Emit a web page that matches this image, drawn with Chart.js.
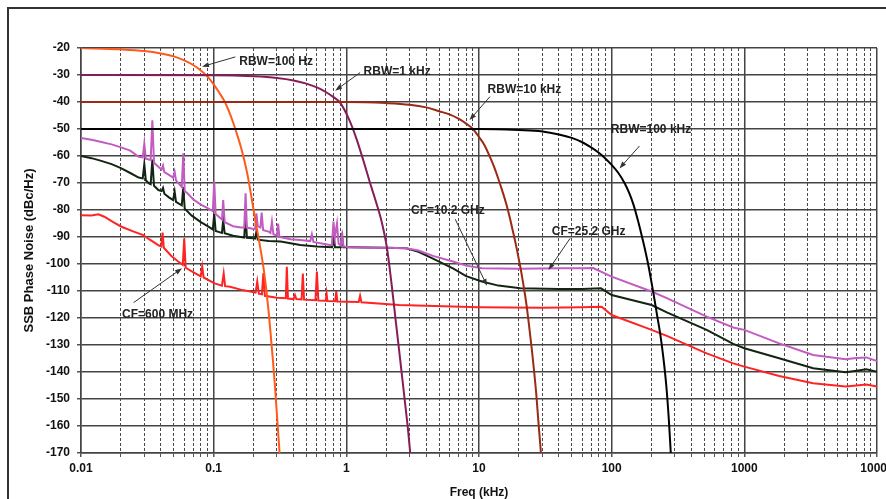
<!DOCTYPE html>
<html><head><meta charset="utf-8">
<script src="https://cdn.jsdelivr.net/npm/chart.js@4/dist/chart.umd.min.js"></script>
<style>
html,body{margin:0;padding:0;overflow:hidden;background:#fff;width:886px;height:499px;}
#frame{position:absolute;left:7px;top:7px;width:1000px;height:1000px;border-left:2px solid #333;border-top:2px solid #333;}
#wrap{position:absolute;left:0;top:0;width:900px;height:510px;}
</style></head><body>
<div id="frame"></div>
<div id="wrap"><canvas id="c"></canvas></div>
<script>
// ---- Tick data ----
const decadeValues = [0.01, 0.1, 1, 10, 100, 1000, 10000];
const decadeLabels = ['0.01', '0.1', '1', '10', '100', '1000', '10000'];
const minorMultipliers = [1, 2, 3, 4, 5, 6, 7, 8, 9];
const yMin = -170, yMax = -20, yStep = 10;

// ---- Series data: [freq kHz, dBc/Hz] ----
const rbw100Hz = [[0.01,-20],[0.02,-20.5],[0.03,-21.1],[0.04,-22],[0.05,-23.1],[0.06,-24.6],[0.07,-26.3],[0.08,-28.3],[0.09,-30.6],[0.1,-33.5],[0.11,-36.5],[0.12,-39.5],[0.13,-43.3],[0.14,-47.5],[0.15,-52],[0.16,-56.5],[0.17,-61.5],[0.18,-67],[0.19,-73.5],[0.2,-80],[0.21,-86],[0.22,-91.5],[0.23,-97],[0.24,-103],[0.25,-110],[0.26,-118],[0.27,-127],[0.28,-136],[0.29,-145.5],[0.30,-156],[0.314,-170]];
const rbw1kHz = [[0.01,-30],[0.1,-30.1],[0.2,-30.5],[0.3,-31.1],[0.4,-32],[0.5,-33.2],[0.6,-34.6],[0.7,-36.3],[0.8,-38.2],[0.9,-40.3],[1.05,-46.5],[1.2,-54],[1.35,-62],[1.51,-70],[1.65,-76],[1.85,-84.5],[2.02,-93.8],[2.2,-108],[2.35,-120.5],[2.5,-132],[2.65,-143],[2.8,-153.5],[2.92,-161.5],[3.03,-170]];
const rbw10kHz = [[0.01,-40],[1,-40],[2,-40.4],[3,-41],[4,-42],[5,-43.4],[6,-44.6],[7,-46.2],[8,-48],[9,-50],[10,-53],[11,-56],[12,-60],[13,-64],[14,-68.5],[15,-73],[16,-77.5],[17,-82.5],[18,-87.8],[19,-93],[20,-98.5],[21,-104],[22,-110],[23,-116.5],[24,-124],[25,-131.5],[26,-139.5],[27,-148],[28,-158],[29.3,-170]];
const rbw100kHz = [[0.01,-50],[10,-50],[20,-50.4],[30,-50.9],[40,-52],[50,-53.3],[60,-54.9],[70,-56.8],[80,-58.8],[90,-61],[100,-63.3],[112,-66.2],[125,-70],[135,-73.5],[146,-78],[158,-84],[170,-90.3],[179,-95],[190,-101],[200,-107],[210,-113],[220,-119],[232,-125.7],[245,-134.5],[258,-145],[270,-158],[279,-170]];

const cf25GHz = [[0.01,-53.3],[0.012,-54],[0.014,-54.7],[0.017,-55.7],[0.02,-56.8],[0.0235,-58],[0.0272,-60.3],[0.0292,-60.5],[0.030,-55.4],[0.0308,-61],[0.0335,-61.5],[0.0345,-46.8],[0.0355,-62.5],[0.0383,-64],[0.0405,-65],[0.0415,-63.5],[0.0425,-66],[0.046,-67],[0.0495,-68],[0.0508,-65.8],[0.052,-69],[0.0575,-71.5],[0.059,-59],[0.0605,-73],[0.064,-74],[0.07,-76],[0.08,-78],[0.09,-79.3],[0.0985,-80.4],[0.101,-69.5],[0.1035,-81.5],[0.112,-83],[0.1155,-83.5],[0.118,-76.3],[0.121,-84.5],[0.14,-86],[0.16,-86.5],[0.17,-86.5],[0.174,-73.8],[0.178,-86.5],[0.2,-87],[0.205,-87],[0.21,-81.2],[0.215,-86],[0.225,-86.5],[0.23,-81],[0.236,-87.5],[0.26,-88],[0.268,-88.5],[0.275,-84.3],[0.282,-89],[0.3,-89.5],[0.306,-85],[0.313,-90],[0.38,-90.8],[0.45,-91.1],[0.535,-91.5],[0.55,-89],[0.565,-91.8],[0.75,-93],[0.78,-93],[0.80,-84.3],[0.82,-90],[0.85,-85],[0.875,-92.5],[0.91,-93.2],[0.93,-88.5],[0.95,-93.5],[1.06,-93.8],[1.5,-94],[2.0,-94],[2.83,-94.2],[3.5,-95],[4.5,-97],[6.36,-99.1],[8,-100.6],[10.5,-101.6],[20,-101.8],[40,-101.6],[60,-101.6],[72.6,-101.5],[100,-104.7],[200,-110.2],[263,-112.7],[520,-119.5],[825,-123.5],[1000,-124.4],[1830,-129.4],[3300,-133.7],[5800,-135.3],[7000,-134.8],[8300,-134.6],[10000,-135.9]];

const cf10GHz = [[0.01,-60],[0.012,-60.8],[0.014,-61.7],[0.017,-63],[0.02,-64.5],[0.0235,-66.3],[0.0272,-68],[0.0292,-68.3],[0.030,-63],[0.0308,-69],[0.0325,-70.2],[0.0335,-70.5],[0.0345,-61.3],[0.0355,-71],[0.0383,-72.6],[0.0405,-73],[0.0415,-71.8],[0.0425,-74],[0.046,-75.3],[0.0495,-76.3],[0.0508,-73.2],[0.052,-77],[0.0575,-78.3],[0.059,-71.5],[0.0605,-79.5],[0.068,-82],[0.08,-84.5],[0.09,-86],[0.0985,-87.2],[0.101,-81.5],[0.1035,-87.8],[0.112,-88.3],[0.1155,-88.5],[0.118,-83.7],[0.121,-88.6],[0.14,-89.5],[0.16,-90],[0.17,-90.2],[0.174,-81.2],[0.178,-90.3],[0.2,-90.5],[0.205,-90.6],[0.21,-88],[0.215,-91],[0.26,-91.5],[0.32,-91.7],[0.45,-93],[0.6,-93.5],[0.78,-93.8],[0.8,-88],[0.82,-93.8],[0.91,-93.8],[0.93,-90],[0.95,-93.8],[1.06,-93.8],[2.0,-94],[2.83,-94.2],[3.5,-95.5],[4.5,-98],[6.36,-101.6],[8,-104.5],[10.5,-106.5],[14,-108],[20.5,-109],[40,-109.3],[60,-109.3],[83,-109],[100,-111.5],[200,-115.2],[263,-118],[520,-124.4],[825,-129.6],[1000,-131.2],[1830,-134.9],[3300,-138.6],[5800,-140.1],[7000,-139.5],[8300,-139],[10000,-139.9]];

const cf600MHz = [[0.01,-81.9],[0.012,-82],[0.0135,-81.6],[0.015,-82.5],[0.0175,-84.5],[0.0202,-86.2],[0.025,-88],[0.0295,-89.3],[0.033,-91],[0.0382,-93],[0.0403,-93.5],[0.0412,-88.4],[0.0421,-94],[0.048,-97],[0.054,-99.1],[0.0585,-100.3],[0.060,-90.5],[0.0615,-101.4],[0.07,-103],[0.08,-104.6],[0.082,-101],[0.084,-105],[0.1016,-107.2],[0.1155,-108],[0.119,-103.5],[0.122,-108.2],[0.133,-108.4],[0.16,-109.5],[0.189,-110.2],[0.207,-110.6],[0.213,-106.5],[0.219,-111],[0.231,-111.2],[0.237,-103.4],[0.243,-111.8],[0.3,-112.5],[0.35,-112.7],[0.356,-101],[0.363,-112.8],[0.4,-113],[0.41,-111.5],[0.42,-113],[0.46,-113.1],[0.47,-103.5],[0.48,-113.2],[0.585,-113.4],[0.6,-102.8],[0.615,-113.5],[0.7,-113.6],[0.71,-111],[0.72,-113.7],[0.825,-113.8],[0.84,-110],[0.855,-113.9],[1.0,-114],[1.24,-114.1],[1.27,-111.8],[1.3,-114.2],[2.5,-115.2],[10,-116],[30,-116.2],[60,-116],[84,-115.8],[100,-118.9],[200,-124.4],[263,-126.7],[520,-133.1],[825,-136.8],[1000,-138],[1830,-141.5],[3300,-144.2],[5800,-145.4],[7000,-145],[8300,-144.6],[10000,-145.4]];

// ---- Annotations (data coordinates) ----
const annotations = [
  {text:'RBW=100 Hz', pos:[0.156,-25.1], from:[0.1456,-23.3], to:[0.0817,-26.9]},
  {text:'RBW=1 kHz', pos:[1.35,-28.8], from:[1.27,-29.1], to:[0.824,-35.8]},
  {text:'RBW=10 kHz', pos:[11.6,-35.6], from:[12.1,-38], to:[8.48,-46.7]},
  {text:'RBW=100 kHz', pos:[98.6,-50.4], from:[162,-56.3], to:[114.5,-64.6]},
  {text:'CF=10.2 GHz', pos:[3.07,-80.3], from:[6.62,-83.4], to:[11.5,-108.1]},
  {text:'CF=25.2 GHz', pos:[35.4,-88.0], from:[48.6,-90.5], to:[33.4,-102.2]},
  {text:'CF=600 MHz', pos:[0.0204,-118.9], from:[0.0249,-114.3], to:[0.0577,-101.6]}
];

const FONT = '"Liberation Sans", Arial, sans-serif';
const gridValues = [];
decadeValues.forEach((d, i) => {
  if (i === decadeValues.length - 1) { gridValues.push(d); return; }
  minorMultipliers.forEach(m => gridValues.push(+(d * m).toPrecision(6)));
});
function isDecade(v) {
  const l = Math.log10(v);
  return Math.abs(l - Math.round(l)) < 1e-9;
}
const toXY = arr => arr.map(p => ({x: p[0], y: p[1]}));

const annotPlugin = {
  id: 'annot',
  afterDatasetsDraw(chart) {
    const {ctx, scales: {x, y}} = chart;
    ctx.save();
    ctx.font = 'bold 12px ' + FONT;
    ctx.textBaseline = 'middle';
    ctx.textAlign = 'left';
    annotations.forEach(a => {
      ctx.fillStyle = '#222';
      const tx = x.getPixelForValue(a.pos[0]), ty = y.getPixelForValue(a.pos[1]);
      ctx.fillText(a.text, tx, ty);
      const x1 = x.getPixelForValue(a.from[0]), y1 = y.getPixelForValue(a.from[1]);
      const x2 = x.getPixelForValue(a.to[0]), y2 = y.getPixelForValue(a.to[1]);
      const ang = Math.atan2(y2 - y1, x2 - x1);
      ctx.strokeStyle = '#333';
      ctx.lineWidth = 1;
      ctx.beginPath();
      ctx.moveTo(x1, y1);
      ctx.lineTo(x2 - 4 * Math.cos(ang), y2 - 4 * Math.sin(ang));
      ctx.stroke();
      ctx.fillStyle = '#333';
      ctx.beginPath();
      ctx.moveTo(x2, y2);
      ctx.lineTo(x2 - 7 * Math.cos(ang) + 2.5 * Math.sin(ang), y2 - 7 * Math.sin(ang) - 2.5 * Math.cos(ang));
      ctx.lineTo(x2 - 7 * Math.cos(ang) - 2.5 * Math.sin(ang), y2 - 7 * Math.sin(ang) + 2.5 * Math.cos(ang));
      ctx.closePath();
      ctx.fill();
    });
    ctx.restore();
  }
};

const lineDs = (label, data, color, smooth) => ({
  label, data: toXY(data), borderColor: color, backgroundColor: color,
  borderWidth: 2, pointRadius: 0, fill: false, tension: 0,
  cubicInterpolationMode: smooth ? 'monotone' : 'default'
});

new Chart(document.getElementById('c'), {
  type: 'line',
  data: {
    datasets: [
      lineDs('RBW=100 kHz', rbw100kHz, '#000000', true),
      lineDs('RBW=10 kHz', rbw10kHz, '#9a2a14', true),
      lineDs('RBW=1 kHz', rbw1kHz, '#861c58', true),
      lineDs('RBW=100 Hz', rbw100Hz, '#ff5a1a', true),
      lineDs('CF=25.2 GHz', cf25GHz, '#c25cc2', false),
      lineDs('CF=10.2 GHz', cf10GHz, '#122412', false),
      lineDs('CF=600 MHz', cf600MHz, '#ff2424', false)
    ]
  },
  options: {
    responsive: true, maintainAspectRatio: false, animation: false,
    devicePixelRatio: 1,
    layout: {padding: {left: 0, right: 23, top: 48, bottom: 0}},
    plugins: {legend: {display: false}, tooltip: {enabled: false}},
    scales: {
      x: {
        type: 'logarithmic', min: 0.01, max: 10000,
        afterBuildTicks: s => { s.ticks = gridValues.map(v => ({value: v, major: isDecade(v)})); },
        afterFit: s => { s.height = 57; },
        ticks: {
          autoSkip: false, maxRotation: 0, minRotation: 0, padding: 4,
          color: '#111', font: {family: FONT, size: 12, weight: 'bold'},
          callback: v => { const i = decadeValues.findIndex(d => Math.abs(d - v) / d < 1e-6); return i >= 0 ? decadeLabels[i] : ''; }
        },
        grid: {
          color: c => (c.tick && isDecade(c.tick.value)) ? '#444' : '#4a4a4a',
          lineWidth: c => (c.tick && isDecade(c.tick.value)) ? 1.5 : 1,
          tickLength: 4, tickColor: '#555'
        },
        border: {
          display: true, color: '#444', width: 1.5,
          dash: c => (c && c.tick && !isDecade(c.tick.value)) ? [3, 2] : []
        },
        title: {display: true, text: 'Freq (kHz)', color: '#111', font: {family: FONT, size: 12, weight: 'bold'}, padding: {top: 0, bottom: 10}}
      },
      y: {
        min: yMin, max: yMax,
        afterFit: s => { s.width = 81; },
        ticks: {stepSize: yStep, padding: 7, color: '#111', font: {family: FONT, size: 12, weight: 'bold'}},
        grid: {color: '#444', lineWidth: 1.5, tickLength: 4, tickColor: '#555'},
        border: {display: true, color: '#444', width: 1.5},
        title: {display: true, text: 'SSB Phase Noise (dBc/Hz)', color: '#111', font: {family: FONT, size: 13, weight: 'bold'}, padding: {top: 22, bottom: 0}}
      }
    }
  },
  plugins: [annotPlugin]
});
</script></body></html>
